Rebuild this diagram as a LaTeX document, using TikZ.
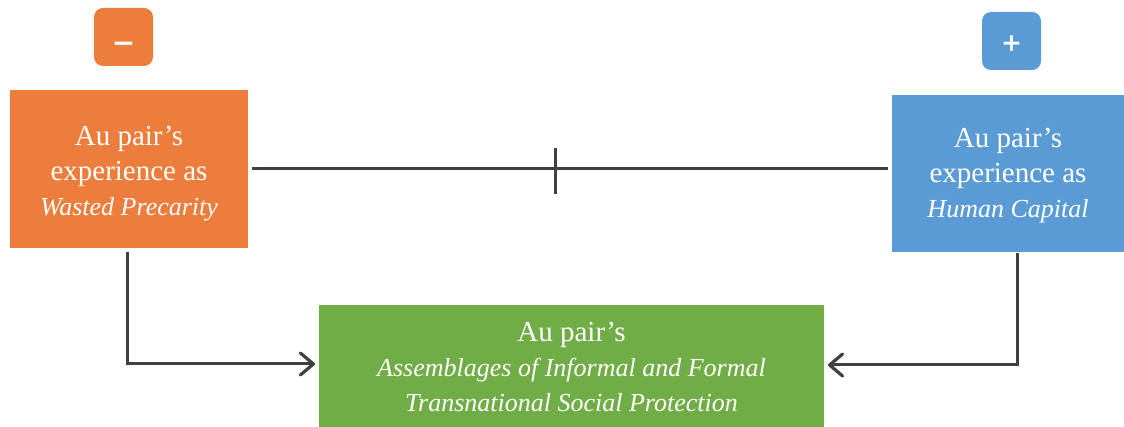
\documentclass[tikz,border=0pt]{standalone}
\usepackage{fontspec}
\setmainfont{Liberation Serif}
\newfontfamily\badgefont{DejaVu Sans}
\usetikzlibrary{arrows.meta,calc}
\definecolor{orangebox}{HTML}{ED7D3C}
\definecolor{bluebox}{HTML}{5B9BD5}
\definecolor{greenbox}{HTML}{70AD47}
\definecolor{conn}{HTML}{404040}
\newcommand{\rom}[1]{{\fontsize{29}{35}\selectfont #1}}
\newcommand{\ita}[1]{{\fontsize{26}{35}\selectfont\itshape #1}}
\newcommand{\stacked}[2]{\vbox{\kern#1\hbox{\begin{tabular}{@{}c@{}}#2\end{tabular}}}}
\tikzset{
  box/.style={anchor=north west,inner sep=0pt,outer sep=0pt,text=white,font=\fontsize{29}{35}\selectfont},
  badge/.style={anchor=north west,inner sep=0pt,outer sep=0pt,rounded corners=9pt,minimum width=59pt,minimum height=58pt},
  markglyph/.style={text=white,inner sep=0pt,font=\badgefont\bfseries\fontsize{25}{25}\selectfont},
  link/.style={draw=conn,line width=3pt},
  arrowlink/.style={link,-{Straight Barb[length=13pt,width=22pt,line width=3.2pt,round]},line join=miter}
}
\begin{document}
\begin{tikzpicture}[x=1pt,y=-1pt]
\useasboundingbox (0,0) rectangle (1124,427);
\node[box,fill=orangebox,minimum width=238pt,minimum height=158pt] (waste) at (10,90)
  {\stacked{10pt}{\rom{Au pair’s}\\\rom{experience as}\\\ita{Wasted Precarity}}};
\node[box,fill=bluebox,minimum width=232pt,minimum height=157pt] (human) at (892,95)
  {\stacked{5pt}{\rom{Au pair’s}\\\rom{experience as}\\\ita{Human Capital}}};
\node[box,fill=greenbox,minimum width=505pt,minimum height=122pt] (prot) at (319,305)
  {\stacked{7pt}{\rom{Au pair’s}\\\ita{Assemblages of Informal and Formal}\\\ita{Transnational Social Protection}}};
\node[badge,fill=orangebox,label={[markglyph,font=\badgefont\bfseries\fontsize{28}{28}\selectfont,yshift=-10pt]center:\textminus}] (minus) at (94,8) {};
\node[badge,fill=bluebox,label={[markglyph,yshift=-3pt]center:+}] (plus) at (982,12) {};
\draw[link,shorten <=4pt,shorten >=4pt] (waste.east) -- (waste.east -| human.west);
\coordinate (mid) at (555,169);
\draw[conn,line width=3pt] ($(mid)+(0,-21)$) -- ($(mid)+(0,25)$);
\draw[arrowlink,shorten <=4pt] ([xshift=-2pt]waste.south) |- ([xshift=-4pt,yshift=2pt]prot.west);
\draw[arrowlink,shorten <=1pt] ([xshift=9pt]human.south) |- ([xshift=4pt,yshift=1pt]prot.east);
\end{tikzpicture}
\end{document}
